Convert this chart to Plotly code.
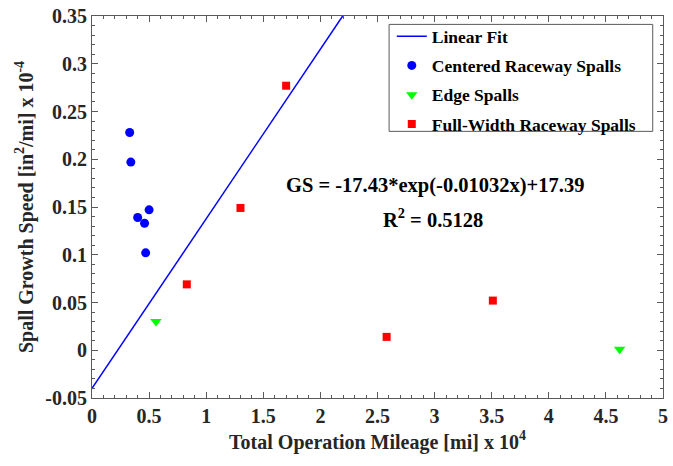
import plotly.graph_objects as go

# Data
centered_x = [0.33, 0.34, 0.50, 0.40, 0.46, 0.47]
centered_y = [0.228, 0.197, 0.147, 0.139, 0.133, 0.102]
edge_x = [0.56, 4.62]
edge_y = [0.030, 0.001]
full_x = [1.30, 0.83, 1.70, 2.58, 3.51]
full_y = [0.149, 0.069, 0.277, 0.014, 0.052]
fit_x = [0.0, 2.195]
fit_y = [-0.040, 0.350]

x_ticks = [0, 0.5, 1, 1.5, 2, 2.5, 3, 3.5, 4, 4.5, 5]
x_ticklabels = ["0", "0.5", "1", "1.5", "2", "2.5", "3", "3.5", "4", "4.5", "5"]
y_ticks = [-0.05, 0, 0.05, 0.1, 0.15, 0.2, 0.25, 0.3, 0.35]
y_ticklabels = ["-0.05", "0", "0.05", "0.1", "0.15", "0.2", "0.25", "0.3", "0.35"]

FONT = "Liberation Serif"
TXT = "#262626"

def b(s):
    return "<b>" + s + "</b>"

fig = go.Figure()
fig.add_trace(go.Scatter(x=fit_x, y=fit_y, mode="lines", name=b("Linear Fit"),
                         line=dict(color="#0000ff", width=1.5), legendgroup="a"))
fig.add_trace(go.Scatter(x=centered_x, y=centered_y, mode="markers", name=b("Centered Raceway Spalls"),
                         marker=dict(symbol="circle", size=9, color="#0000ff"), legendgroup="b"))
fig.add_trace(go.Scatter(x=edge_x, y=edge_y, mode="markers", name=b("Edge Spalls"),
                         marker=dict(symbol="triangle-down", size=10, color="#00ff00"), legendgroup="c"))
fig.add_trace(go.Scatter(x=full_x, y=full_y, mode="markers", name=b("Full-Width Raceway Spalls"),
                         marker=dict(symbol="square", size=8, color="#ff0000"), legendgroup="d"))

axis_common = dict(showgrid=False, zeroline=False, showline=True, linecolor="#5a5a5a", linewidth=1,
                   mirror="allticks", ticks="inside", ticklen=6, tickcolor="#5a5a5a",
                   tickfont=dict(family=FONT, size=20, color=TXT))

fig.update_xaxes(range=[0, 5], tickvals=x_ticks, ticktext=[b(t) for t in x_ticklabels],
                 minor=dict(dtick=0.1, ticks="inside", ticklen=3, tickcolor="#5a5a5a"),
                 title=dict(text=b("Total Operation Mileage [mi] x 10<sup>4</sup>"),
                            font=dict(family=FONT, size=20, color=TXT), standoff=8),
                 **axis_common)
fig.update_yaxes(range=[-0.05, 0.35], tickvals=y_ticks, ticktext=[b(t) for t in y_ticklabels],
                 minor=dict(dtick=0.01, ticks="inside", ticklen=3, tickcolor="#5a5a5a"),
                 title=dict(text=b("Spall Growth Speed [in<sup>2</sup>/mi] x 10<sup>-4</sup>"),
                            font=dict(family=FONT, size=20, color=TXT), standoff=6),
                 **axis_common)

fig.add_annotation(x=3.0, y=0.173, xref="x", yref="y", showarrow=False,
                   text=b("GS = -17.43*exp(-0.01032x)+17.39"),
                   font=dict(family=FONT, size=20.5, color="#000000"))
fig.add_annotation(x=2.99, y=0.139, xref="x", yref="y", showarrow=False,
                   text=b("R<sup>2</sup> = 0.5128"),
                   font=dict(family=FONT, size=20.5, color="#000000"))

# legend frame
fig.add_shape(type="rect", xref="paper", yref="paper",
              x0=0.5203, x1=0.982, y0=0.698, y1=0.978,
              line=dict(color="#5a5a5a", width=1), fillcolor="white", layer="below")

fig.update_layout(
    width=673, height=466,
    margin=dict(l=92, r=5, t=14, b=68),
    paper_bgcolor="white", plot_bgcolor="white",
    legend=dict(x=0.525, y=0.994, xanchor="left", yanchor="top",
                borderwidth=0, bgcolor="rgba(0,0,0,0)",
                font=dict(family=FONT, size=17.5, color="#000000"),
                tracegroupgap=3.5, itemwidth=30),
)

fig.write_html("out.html")
